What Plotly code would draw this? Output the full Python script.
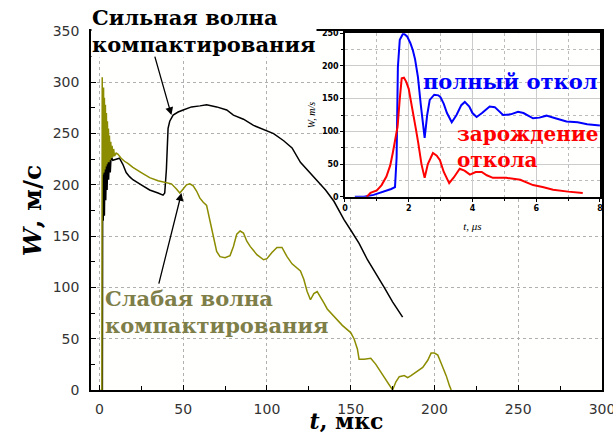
import plotly.graph_objects as go

# ---- main chart data (t in мкс, W in м/с) ----
strong_t = [1.0, 1.8, 2.0, 2.3, 2.7, 3.0, 3.4, 3.8, 4.2, 4.6, 5.0, 5.5, 6.0, 6.5, 7.0, 8.0, 10, 12, 14, 16, 18, 20,
            25, 30, 35, 38, 39, 40, 41, 42, 44, 47, 50, 55, 60, 64, 70, 76, 80, 86, 92, 98, 104, 110, 115, 120,
            125, 130, 135, 140, 146, 150, 155, 160, 165, 170, 175, 181]
strong_w = [0, 0, 230, 165, 225, 170, 228, 185, 222, 195, 225, 205, 226, 212, 228, 224, 225, 226, 220, 212, 208, 205,
            200, 195, 192, 190, 192, 215, 255, 262, 268, 271, 273, 276, 277, 278, 276, 273, 268, 264, 258, 254,
            250, 243, 236, 222, 213, 205, 195, 184, 166, 156, 143, 127, 114, 100, 86, 71]

weak_t = [0.7, 1.5, 1.7, 1.9, 2.1, 2.3, 2.5, 2.7, 3.0, 3.3, 3.6, 3.9, 4.2, 4.5, 4.8, 5.1, 5.4, 5.7, 6.0, 6.4, 6.8,
          7.2, 7.6, 8.0, 8.5, 9, 10, 11, 13, 15, 17, 20, 25, 30, 35, 40, 43, 46, 48, 50, 52, 54, 56, 58, 60, 62,
          64, 66, 68, 70, 72, 75, 78, 80, 82, 84, 86, 88, 90, 94, 98, 100, 103, 106, 109, 112, 115, 118, 120,
          122, 124, 126, 128, 130, 132, 134, 136, 140, 145, 150, 152, 154, 155, 158, 162, 165, 170, 173, 175,
          177, 179, 182, 184, 186, 190, 193, 196, 198, 200, 202, 204, 207, 209, 210]
weak_w = [0, 0, 305, 210, 300, 215, 295, 212, 285, 215, 278, 218, 270, 220, 262, 222, 255, 222, 248, 224, 242,
          226, 238, 227, 235, 228, 231, 230, 226, 223, 221, 217, 212, 207, 204, 202, 201, 196, 192, 196, 200, 201,
          199, 194, 187, 183, 180, 165, 150, 135, 130, 129, 131, 140, 152, 155, 153, 145, 140, 132, 127, 128, 134,
          139, 139, 130, 123, 119, 116, 108, 96, 88, 94, 96, 91, 85, 79, 72, 63, 56, 50, 40, 30, 30, 31, 25, 12,
          4, 0, 8, 13, 14, 12, 14, 19, 22, 29, 36, 36, 34, 26, 14, 4, 0]

# ---- inset data (t in μs, W in m/s) ----
full_t = [0.31, 0.6, 0.9, 1.1, 1.3, 1.45, 1.57, 1.62, 1.66, 1.72, 1.83, 1.95, 2.05, 2.13, 2.2, 2.29, 2.38, 2.45,
          2.5, 2.58, 2.66, 2.8, 2.93, 3.0, 3.1, 3.2, 3.35, 3.5, 3.65, 3.76, 3.9, 4.0, 4.13, 4.3, 4.54, 4.7, 4.96,
          5.2, 5.43, 5.6, 5.9, 6.1, 6.32, 6.6, 6.95, 7.3, 7.6, 8.0]
full_w = [0, 0, 3, 6, 9, 12, 15, 60, 198, 240, 250, 245, 235, 224, 210, 183, 140, 105, 90, 125, 148, 156, 155,
          152, 142, 128, 114, 125, 140, 145, 138, 128, 122, 128, 138, 137, 125, 126, 130, 128, 120, 121, 124,
          120, 115, 114, 111, 109]

onset_t = [0.68, 0.8, 1.0, 1.15, 1.3, 1.42, 1.5, 1.58, 1.65, 1.72, 1.78, 1.85, 1.92, 2.0, 2.13, 2.22, 2.3, 2.4,
           2.5, 2.6, 2.76, 2.88, 2.98, 3.1, 3.27, 3.42, 3.6, 3.75, 3.92, 4.1, 4.29, 4.45, 4.64, 5.06, 5.5, 5.9,
           6.2, 6.53, 7.0, 7.46]
onset_w = [0, 6, 10, 18, 31, 48, 67, 90, 107, 150, 181, 182, 176, 165, 133, 105, 82, 50, 29, 50, 67, 63, 56, 38,
           21, 30, 43, 40, 34, 38, 38, 33, 29, 29, 26, 18, 15, 11, 8, 6]

main_ticks_x = [0, 50, 100, 150, 200, 250, 300]
main_ticks_y = [0, 50, 100, 150, 200, 250, 300, 350]
inset_ticks_x = [0, 2, 4, 6, 8]
inset_ticks_y = [0, 50, 100, 150, 200, 250]

OLIVE = "#8c8c00"
OLIVE_TEXT = "#7e7e48"
SERIF = "DejaVu Serif"

fig = go.Figure()
fig.add_trace(go.Scatter(x=strong_t, y=strong_w, mode="lines", line=dict(color="black", width=1.5),
                         showlegend=False, xaxis="x", yaxis="y"))
fig.add_trace(go.Scatter(x=weak_t, y=weak_w, mode="lines", line=dict(color=OLIVE, width=1.5),
                         showlegend=False, xaxis="x", yaxis="y"))
fig.add_trace(go.Scatter(x=full_t, y=full_w, mode="lines", line=dict(color="#0000ff", width=2),
                         showlegend=False, xaxis="x2", yaxis="y2"))
fig.add_trace(go.Scatter(x=onset_t, y=onset_w, mode="lines", line=dict(color="#ff0000", width=2),
                         showlegend=False, xaxis="x2", yaxis="y2"))

tickfont = dict(family="DejaVu Sans", size=14, color="#333333")
insetfont = dict(family="DejaVu Sans", size=8, color="black")

fig.update_layout(
    width=613, height=434,
    margin=dict(l=91, r=11, t=31, b=44, autoexpand=False),
    paper_bgcolor="white", plot_bgcolor="#fffffe",
    showlegend=False,
    xaxis=dict(range=[-5, 300], tickvals=main_ticks_x, ticks="inside", ticklen=5, ticklabelstandoff=5,
               automargin=False, ticklabeloverflow="allow",
               tickcolor="black", showline=True, linecolor="black", linewidth=1.5, mirror=True,
               showgrid=True, gridcolor="#b0b0b0", griddash="dot", gridwidth=1, zeroline=False,
               tickfont=tickfont,
               minor=dict(tickvals=[25, 75, 125, 175, 225, 275], ticks="inside", ticklen=4, tickcolor="black",
                          showgrid=False),
               title=dict(text="<b><i>t</i>, мкс</b>", font=dict(family=SERIF, size=22, color="black"),
                          standoff=6)),
    yaxis=dict(range=[0, 350], tickvals=main_ticks_y, ticks="inside", ticklen=5, ticklabelstandoff=7,
               automargin=False,
               tickcolor="black", showline=True, linecolor="black", linewidth=1.5, mirror=True,
               showgrid=True, gridcolor="#b0b0b0", griddash="dot", gridwidth=1, zeroline=False,
               tickfont=tickfont,
               minor=dict(tickvals=[25, 75, 125, 175, 225, 275, 325], ticks="inside", ticklen=4,
                          tickcolor="black", showgrid=False),
               title=dict(text="<b><i>W</i>, м/с</b>", font=dict(family=SERIF, size=25, color="black"),
                          standoff=4)),
    xaxis2=dict(domain=[0.497, 0.996], anchor="y2", range=[0, 8], tickvals=inset_ticks_x,
                ticktext=["<b>%d</b>" % v for v in inset_ticks_x], automargin=False,
                ticks="outside", ticklen=3, tickcolor="black", showline=True, linecolor="black", linewidth=1.5,
                mirror=True, showgrid=True, gridcolor="#cccccc", gridwidth=1, zeroline=False,
                tickfont=insetfont,
                minor=dict(tickvals=[1, 3, 5, 7], ticks="outside", ticklen=2, tickcolor="black",
                           showgrid=True, gridcolor="#bbbbbb", griddash="dot"),
                title=dict(text="<i>t, μs</i>", font=dict(family="Liberation Serif", size=11, color="black"),
                           standoff=10)),
    yaxis2=dict(domain=[0.538, 0.994], anchor="x2", range=[0, 250], tickvals=inset_ticks_y,
                ticktext=["<b>%d</b>" % v for v in inset_ticks_y], automargin=False,
                ticks="outside", ticklen=3, tickcolor="black", showline=True, linecolor="black", linewidth=1.5,
                mirror=True, showgrid=True, gridcolor="#cccccc", gridwidth=1, zeroline=False,
                tickfont=insetfont,
                minor=dict(tickvals=[25, 75, 125, 175, 225], ticks="outside", ticklen=2, tickcolor="black",
                           showgrid=True, gridcolor="#bbbbbb", griddash="dot"),
                title=dict(text="<i>W, m/s</i>", font=dict(family="Liberation Serif", size=10, color="black"),
                           standoff=4)),
)

def label(text, x, y, color, size, bg=None):
    fig.add_annotation(text="<b>" + text + "</b>", x=x, y=y, xref="paper", yref="paper", xanchor="left",
                       yanchor="middle", align="left", showarrow=False,
                       font=dict(family=SERIF, size=size, color=color), bgcolor=bg, borderpad=0)

label("Сильная волна<br>компактирования", 0.0, 1.0, "black", 21, "white")
label("Слабая волна<br>компактирования", 0.025, 0.217, OLIVE_TEXT, 21)
label("полный откол", 0.648, 0.858, "#0000ff", 21)
label("зарождение<br>откола", 0.714, 0.676, "#ff0000", 20)

# arrows
fig.add_annotation(x=43, y=268, xref="x", yref="y", ax=-17, ay=-60, text="", showarrow=True,
                   arrowhead=2, arrowsize=1.2, arrowwidth=1.3, arrowcolor="black")
fig.add_annotation(x=49, y=192, xref="x", yref="y", ax=-23, ay=92, text="", showarrow=True,
                   arrowhead=2, arrowsize=1.2, arrowwidth=1.3, arrowcolor="black")

fig.write_html("out.html")
